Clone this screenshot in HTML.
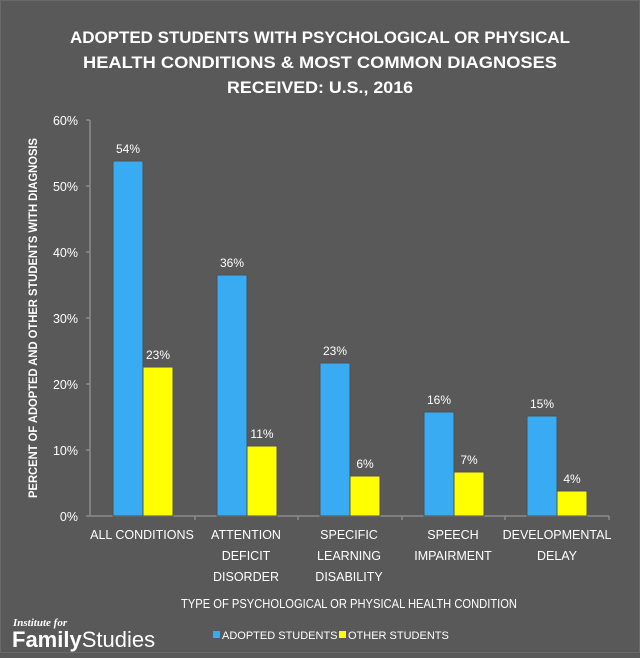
<!DOCTYPE html>
<html><head><style>
body{margin:0;background:#595959;}
svg text{font-family:"Liberation Sans",sans-serif;fill:#fff;}
</style></head><body>
<svg width="640" height="653" viewBox="0 0 640 653" xmlns="http://www.w3.org/2000/svg">
<rect width="640" height="653" fill="#595959"/>
<rect x="0.5" y="0.5" width="639" height="652" fill="none" stroke="#6a6a6a"/>
<g font-weight="bold" font-size="16.5" text-anchor="middle">
<text x="320" y="43" textLength="500" lengthAdjust="spacingAndGlyphs">ADOPTED STUDENTS WITH PSYCHOLOGICAL OR PHYSICAL</text>
<text x="320" y="68" textLength="474" lengthAdjust="spacingAndGlyphs">HEALTH CONDITIONS &amp; MOST COMMON DIAGNOSES</text>
<text x="320" y="93" textLength="186" lengthAdjust="spacingAndGlyphs">RECEIVED: U.S., 2016</text>
</g>
<g font-size="12.5" text-anchor="end">
<text x="78" y="125">60%</text><text x="78" y="191">50%</text><text x="78" y="257">40%</text>
<text x="78" y="323">30%</text><text x="78" y="389">20%</text><text x="78" y="455">10%</text><text x="78" y="521">0%</text>
</g>
<g stroke="#8c8c8c" stroke-width="1.5">
<line x1="90" y1="120" x2="90" y2="516"/>
<line x1="86" y1="120" x2="90" y2="120"/><line x1="86" y1="186" x2="90" y2="186"/><line x1="86" y1="252" x2="90" y2="252"/>
<line x1="86" y1="318" x2="90" y2="318"/><line x1="86" y1="384" x2="90" y2="384"/><line x1="86" y1="450" x2="90" y2="450"/>
<line x1="86" y1="516" x2="609" y2="516"/>
<line x1="195" y1="516" x2="195" y2="520"/><line x1="298" y1="516" x2="298" y2="520"/><line x1="402" y1="516" x2="402" y2="520"/><line x1="505" y1="516" x2="505" y2="520"/><line x1="609" y1="516" x2="609" y2="520"/>
</g>
<text transform="translate(37,318) rotate(-90)" font-size="11.5" font-weight="bold" text-anchor="middle" textLength="360" lengthAdjust="spacingAndGlyphs">PERCENT OF ADOPTED AND OTHER STUDENTS WITH DIAGNOSIS</text>
<g stroke="#505050" stroke-width="1">
<rect x="113" y="161" width="30" height="355" fill="#39abf3"/>
<rect x="143" y="367" width="30" height="149" fill="#ffff00"/>
<rect x="217" y="275" width="30" height="241" fill="#39abf3"/>
<rect x="247" y="446" width="30" height="70" fill="#ffff00"/>
<rect x="320" y="363" width="30" height="153" fill="#39abf3"/>
<rect x="350" y="476" width="30" height="40" fill="#ffff00"/>
<rect x="424" y="412" width="30" height="104" fill="#39abf3"/>
<rect x="454" y="472" width="30" height="44" fill="#ffff00"/>
<rect x="527" y="416" width="30" height="100" fill="#39abf3"/>
<rect x="557" y="491" width="30" height="25" fill="#ffff00"/>
</g>
<g font-size="12" text-anchor="middle">
<text x="128" y="153">54%</text><text x="158" y="359">23%</text>
<text x="232" y="267">36%</text><text x="262" y="438">11%</text>
<text x="335" y="355">23%</text><text x="365" y="468">6%</text>
<text x="439" y="404">16%</text><text x="469" y="464">7%</text>
<text x="542" y="408">15%</text><text x="572" y="483">4%</text>
</g>
<g font-size="12.5" text-anchor="middle">
<text x="142" y="539">ALL CONDITIONS</text>
<text x="246" y="539">ATTENTION</text><text x="246" y="560">DEFICIT</text><text x="246" y="581">DISORDER</text>
<text x="349" y="539">SPECIFIC</text><text x="349" y="560">LEARNING</text><text x="349" y="581">DISABILITY</text>
<text x="453" y="539">SPEECH</text><text x="453" y="560">IMPAIRMENT</text>
<text x="557" y="539">DEVELOPMENTAL</text><text x="557" y="560">DELAY</text>
<text x="349" y="608" textLength="336" lengthAdjust="spacingAndGlyphs">TYPE OF PSYCHOLOGICAL OR PHYSICAL HEALTH CONDITION</text>
</g>
<rect x="213" y="631" width="7" height="7" fill="#39abf3"/>
<text x="222" y="639" font-size="11">ADOPTED STUDENTS</text>
<rect x="339" y="631" width="7" height="7" fill="#ffff00"/>
<text x="348" y="639" font-size="11">OTHER STUDENTS</text>
<text x="13" y="626" font-family="Liberation Serif" font-style="italic" font-weight="bold" font-size="11" style="font-family:'Liberation Serif',serif">Institute for</text>
<text x="12" y="647" font-size="22"><tspan font-weight="bold">Family</tspan><tspan>Studies</tspan></text>
</svg>
</body></html>
